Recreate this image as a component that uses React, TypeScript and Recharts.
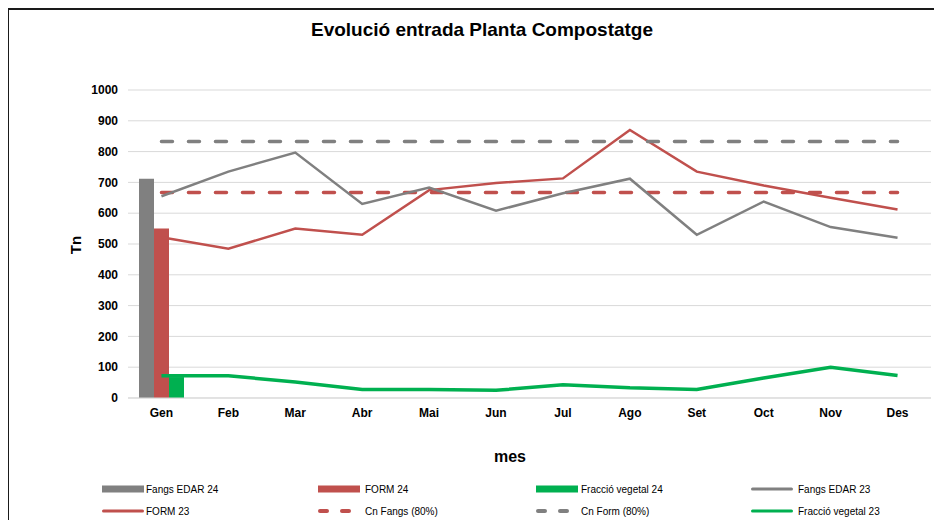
import React from 'react';
import { ComposedChart, Bar, Line, XAxis, YAxis, CartesianGrid } from 'recharts';

const months = ['Gen', 'Feb', 'Mar', 'Abr', 'Mai', 'Jun', 'Jul', 'Ago', 'Set', 'Oct', 'Nov', 'Des'];
const fangsEdar24 = [712, null, null, null, null, null, null, null, null, null, null, null];
const form24 = [550, null, null, null, null, null, null, null, null, null, null, null];
const fraccioVegetal24 = [68, null, null, null, null, null, null, null, null, null, null, null];
const fangsEdar23 = [655, 735, 797, 630, 683, 608, 665, 712, 530, 638, 555, 520];
const form23 = [522, 485, 550, 530, 675, 698, 713, 870, 735, 690, 650, 612];
const cnFangs = [667, 667, 667, 667, 667, 667, 667, 667, 667, 667, 667, 667];
const cnForm = [833, 833, 833, 833, 833, 833, 833, 833, 833, 833, 833, 833];
const fraccioVegetal23 = [72, 72, 52, 28, 28, 25, 43, 33, 28, 65, 100, 73];
const yTicks = [0, 100, 200, 300, 400, 500, 600, 700, 800, 900, 1000];

const GRAY = '#808080';
const RED = '#c0504d';
const GREEN = '#00b050';
const FONT = '"Liberation Sans", Arial, sans-serif';

const data = months.map((m, i) => ({
  mes: m,
  fangsEdar24: fangsEdar24[i],
  form24: form24[i],
  fraccioVegetal24: fraccioVegetal24[i],
  fangsEdar23: fangsEdar23[i],
  form23: form23[i],
  cnFangs: cnFangs[i],
  cnForm: cnForm[i],
  fraccioVegetal23: fraccioVegetal23[i],
}));

type LegendItem = { name: string; color: string; kind: 'bar' | 'line' | 'dash' };
const legendRows: LegendItem[][] = [
  [
    { name: 'Fangs EDAR 24', color: GRAY, kind: 'bar' },
    { name: 'FORM 24', color: RED, kind: 'bar' },
    { name: 'Fracció vegetal 24', color: GREEN, kind: 'bar' },
    { name: 'Fangs EDAR 23', color: GRAY, kind: 'line' },
  ],
  [
    { name: 'FORM 23', color: RED, kind: 'line' },
    { name: 'Cn Fangs (80%)', color: RED, kind: 'dash' },
    { name: 'Cn Form (80%)', color: GRAY, kind: 'dash' },
    { name: 'Fracció vegetal 23', color: GREEN, kind: 'line' },
  ],
];
const colSwatchX = [94, 310, 528, 743];
const colTextX = [138, 357, 573, 790];
const rowY = [481, 503];

function Swatch({ item }: { item: LegendItem }) {
  if (item.kind === 'bar') {
    return <div style={{ width: 42, height: 7, background: item.color }} />;
  }
  if (item.kind === 'line') {
    return <div style={{ width: 42, height: 3, background: item.color, borderRadius: 2 }} />;
  }
  return (
    <div style={{ display: 'flex', width: 42, height: 4 }}>
      <div style={{ width: 11, height: 4, background: item.color, borderRadius: 2 }} />
      <div style={{ width: 11 }} />
      <div style={{ width: 11, height: 4, background: item.color, borderRadius: 2 }} />
    </div>
  );
}

export default function App() {
  return (
    <div style={{ position: 'relative', width: 926, height: 512, fontFamily: FONT }}>
      <div
        style={{
          position: 'absolute',
          left: 474,
          top: 22,
          transform: 'translate(-50%, -50%)',
          fontSize: 19,
          fontWeight: 'bold',
          whiteSpace: 'nowrap',
          color: '#000',
        }}
      >
        Evolució entrada Planta Compostatge
      </div>
      <ComposedChart
        width={926}
        height={512}
        data={data}
        margin={{ top: 82, right: 3, bottom: 92, left: 40 }}
        barGap={0}
        barSize={15}
      >
        <CartesianGrid vertical={false} stroke="#d9d9d9" />
        <XAxis
          dataKey="mes"
          height={30}
          tickLine={false}
          axisLine={{ stroke: '#d9d9d9' }}
          tickMargin={4}
          tick={{ fontSize: 12, fontWeight: 'bold', fill: '#000', fontFamily: FONT }}
        />
        <YAxis
          width={80}
          domain={[0, 1000]}
          ticks={yTicks}
          interval={0}
          axisLine={false}
          tickLine={false}
          tickMargin={4}
          tick={{ fontSize: 12, fontWeight: 'bold', fill: '#000', fontFamily: FONT }}
        />
        <Bar dataKey="fangsEdar24" fill={GRAY} isAnimationActive={false} />
        <Bar dataKey="form24" fill={RED} isAnimationActive={false} />
        <Bar dataKey="fraccioVegetal24" fill={GREEN} isAnimationActive={false} />
        <Line dataKey="form23" stroke={RED} strokeWidth={2.5} dot={false} isAnimationActive={false} />
        <Line dataKey="cnFangs" stroke={RED} strokeWidth={3.5} strokeDasharray="11 16" strokeLinecap="round" dot={false} isAnimationActive={false} />
        <Line dataKey="cnForm" stroke={GRAY} strokeWidth={3.5} strokeDasharray="11 16" strokeLinecap="round" dot={false} isAnimationActive={false} />
        <Line dataKey="fangsEdar23" stroke={GRAY} strokeWidth={2.5} dot={false} isAnimationActive={false} />
        <Line dataKey="fraccioVegetal23" stroke={GREEN} strokeWidth={3.5} dot={false} isAnimationActive={false} />
      </ComposedChart>
      <div
        style={{
          position: 'absolute',
          left: 67,
          top: 237,
          transform: 'translate(-50%, -50%) rotate(-90deg)',
          fontSize: 15,
          fontWeight: 'bold',
          color: '#000',
        }}
      >
        Tn
      </div>
      <div
        style={{
          position: 'absolute',
          left: 502,
          top: 449,
          transform: 'translate(-50%, -50%)',
          fontSize: 16,
          fontWeight: 'bold',
          color: '#000',
        }}
      >
        mes
      </div>
      {legendRows.map((row, r) =>
        row.map((item, c) => (
          <React.Fragment key={item.name}>
            <div
              style={{
                position: 'absolute',
                left: colSwatchX[c],
                top: rowY[r],
                transform: 'translateY(-50%)',
              }}
            >
              <Swatch item={item} />
            </div>
            <div
              style={{
                position: 'absolute',
                left: colTextX[c],
                top: rowY[r],
                transform: 'translateY(-50%)',
                fontSize: 10,
                color: '#000',
                whiteSpace: 'nowrap',
              }}
            >
              {item.name}
            </div>
          </React.Fragment>
        ))
      )}
      <div
        style={{
          position: 'absolute',
          left: -1,
          top: 0,
          width: 934,
          height: 2,
          background: '#1a1a1a',
          zIndex: 10,
        }}
      />
      <div
        style={{
          position: 'absolute',
          left: -1,
          top: 0,
          width: 2,
          height: 512,
          background: '#1a1a1a',
          zIndex: 10,
        }}
      />
    </div>
  );
}
